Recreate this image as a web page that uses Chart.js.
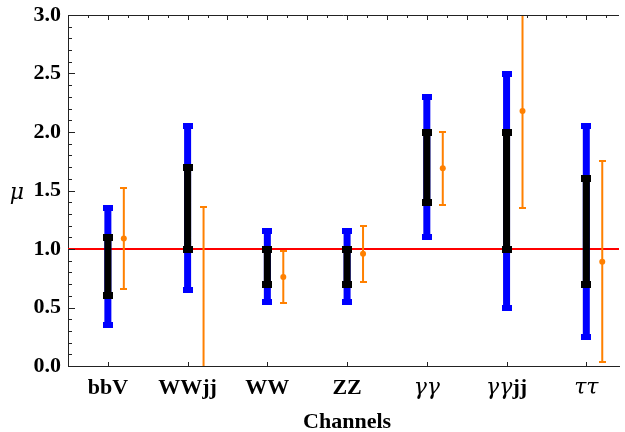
<!DOCTYPE html>
<html><head><meta charset="utf-8">
<script src="https://cdn.jsdelivr.net/npm/chart.js@4"></script>
<style>html,body{margin:0;padding:0;background:#fff;overflow:hidden}</style>
</head><body>
<canvas id="c" width="625" height="432"></canvas>
<script>
const categories = ['bbV', 'WWjj', 'WW', 'ZZ', 'γγ', 'γγjj', 'ττ'];
const blueLow    = [0.35, 0.65, 0.55, 0.55, 1.10, 0.50, 0.25];
const blueHigh   = [1.35, 2.05, 1.15, 1.15, 2.30, 2.50, 2.05];
const blackLow   = [0.60, 1.00, 0.70, 0.70, 1.40, 1.00, 0.70];
const blackHigh  = [1.10, 1.70, 1.00, 1.00, 2.00, 2.00, 1.60];
const orangeCenter = [1.09, -0.20, 0.76, 0.96, 1.69, 2.18, 0.89];
const orangeLow    = [0.66, -1.00, 0.54, 0.72, 1.38, 1.35, 0.03];
const orangeHigh   = [1.52, 1.36, 0.98, 1.20, 2.00, 3.02, 1.75];
const yTicks = [0.0, 0.5, 1.0, 1.5, 2.0, 2.5, 3.0];
const refLine = 1.0;
const xLabel = 'Channels';
const yLabel = 'μ';

const ORANGE_DX = 0.2;
const BLUE = '#0000ff', BLACK = '#000000', ORANGE = '#ff8000', RED = '#ff0000';
const GREEK_FONT = 'italic 22px "DejaVu Serif"';
const BOLD_FONT = 'bold 22px "Liberation Serif"';

function capCanvas(w, h, color) {
  const c = document.createElement('canvas');
  c.width = w; c.height = h;
  const g = c.getContext('2d');
  g.fillStyle = color; g.fillRect(0, 0, w, h);
  return c;
}
function segs(lo, hi, dx) {
  const d = [];
  categories.forEach((_, i) => {
    d.push({x: i + 1 + dx, y: lo[i]}, {x: i + 1 + dx, y: hi[i]}, {x: i + 1 + dx, y: null});
  });
  return d;
}
function ends(lo, hi, dx) {
  const d = [];
  categories.forEach((_, i) => { d.push({x: i + 1 + dx, y: lo[i]}, {x: i + 1 + dx, y: hi[i]}); });
  return d;
}
function centers(vals, dx) { return vals.map((v, i) => ({x: i + 1 + dx, y: v})); }

const decor = {
  id: 'decor',
  afterDraw(chart) {
    const {ctx, chartArea: a, scales: {x, y}} = chart;
    ctx.save();
    ctx.strokeStyle = '#222'; ctx.lineWidth = 1;
    const ln = (x1, y1, x2, y2) => { ctx.beginPath(); ctx.moveTo(x1, y1); ctx.lineTo(x2, y2); ctx.stroke(); };
    ln(a.left, a.top + 0.5, a.right, a.top + 0.5);
    for (let k = 0; k <= 30; k++) {
      const py = Math.round(y.getPixelForValue(k / 10)) + 0.5;
      ln(a.left, py, a.left + (k % 5 === 0 ? 7 : 4), py);
    }
    for (let k = 3; k / 4 <= x.max; k++) {
      const px = Math.round(x.getPixelForValue(k / 4)) + 0.5;
      ln(px, a.top, px, a.top + (k % 2 === 0 ? 5 : 3));
    }
    categories.forEach((_, i) => {
      const px = Math.round(x.getPixelForValue(i + 1)) + 0.5;
      ln(px, a.bottom, px, a.bottom - 4);
    });
    ctx.fillStyle = '#000';
    ctx.textBaseline = 'alphabetic';
    const fontFor = ch => ('γτ'.includes(ch) ? GREEK_FONT : BOLD_FONT);
    categories.forEach((lab, i) => {
      const chars = Array.from(lab);
      let total = 0;
      const widths = chars.map(ch => { ctx.font = fontFor(ch); const w = ctx.measureText(ch).width; total += w; return w; });
      let cx = x.getPixelForValue(i + 1) - total / 2;
      ctx.textAlign = 'left';
      chars.forEach((ch, j) => { ctx.font = fontFor(ch); ctx.fillText(ch, cx, 394); cx += widths[j]; });
    });
    ctx.font = BOLD_FONT;
    ctx.textAlign = 'center';
    ctx.fillText(xLabel, x.getPixelForValue(4), 428);
    ctx.font = GREEK_FONT;
    ctx.fillText(yLabel, 17, Math.round(y.getPixelForValue(1.5)) + 7.5);
    ctx.restore();
  }
};

const xMax = 7.41;
new Chart(document.getElementById('c'), {
  type: 'scatter',
  data: {
    datasets: [
      {data: [{x: 0.5, y: refLine}, {x: xMax, y: refLine}], showLine: true, borderColor: RED, borderWidth: 2, pointRadius: 0, order: 6},
      {data: segs(blueLow, blueHigh, 0), showLine: true, borderColor: BLUE, borderWidth: 7, pointRadius: 0, spanGaps: false, order: 5},
      {data: ends(blueLow, blueHigh, 0), pointStyle: capCanvas(10, 6, BLUE), pointRadius: 5, order: 4},
      {data: segs(blackLow, blackHigh, 0), showLine: true, borderColor: BLACK, borderWidth: 7, pointRadius: 0, spanGaps: false, order: 3},
      {data: ends(blackLow, blackHigh, 0), pointStyle: capCanvas(10, 7, BLACK), pointRadius: 5, order: 2},
      {data: segs(orangeLow, orangeHigh, ORANGE_DX), showLine: true, borderColor: ORANGE, borderWidth: 2, pointRadius: 0, spanGaps: false, clip: 0, order: 1},
      {data: ends(orangeLow, orangeHigh, ORANGE_DX), pointStyle: capCanvas(7, 2, ORANGE), pointRadius: 3, clip: 0, order: 1},
      {data: centers(orangeCenter, ORANGE_DX), pointStyle: 'circle', pointRadius: 3, backgroundColor: ORANGE, borderColor: ORANGE, borderWidth: 0, clip: 0, order: 0}
    ]
  },
  options: {
    responsive: false,
    animation: false,
    devicePixelRatio: 1,
    events: [],
    layout: {padding: {top: 15, right: 0, left: 0, bottom: 0}},
    plugins: {legend: {display: false}, tooltip: {enabled: false}},
    scales: {
      x: {
        type: 'linear', min: 0.5, max: xMax,
        grid: {display: false, drawTicks: false},
        border: {display: true, color: '#222', width: 1},
        ticks: {display: false},
        afterFit: s => { s.height = 66; s.paddingLeft = 0; s.paddingRight = 0; }
      },
      y: {
        type: 'linear', min: 0, max: 3,
        grid: {display: false, drawTicks: false},
        border: {display: true, color: '#222', width: 1},
        afterBuildTicks: s => { s.ticks = yTicks.map(v => ({value: v})); },
        ticks: {
          padding: 7, color: '#000',
          font: {family: '"Liberation Serif"', size: 22, weight: 'bold'},
          callback: v => Number(v).toFixed(1)
        },
        afterFit: s => { s.width = 68; s.paddingTop = 0; s.paddingBottom = 0; }
      }
    }
  },
  plugins: [decor]
});
</script>
</body></html>
